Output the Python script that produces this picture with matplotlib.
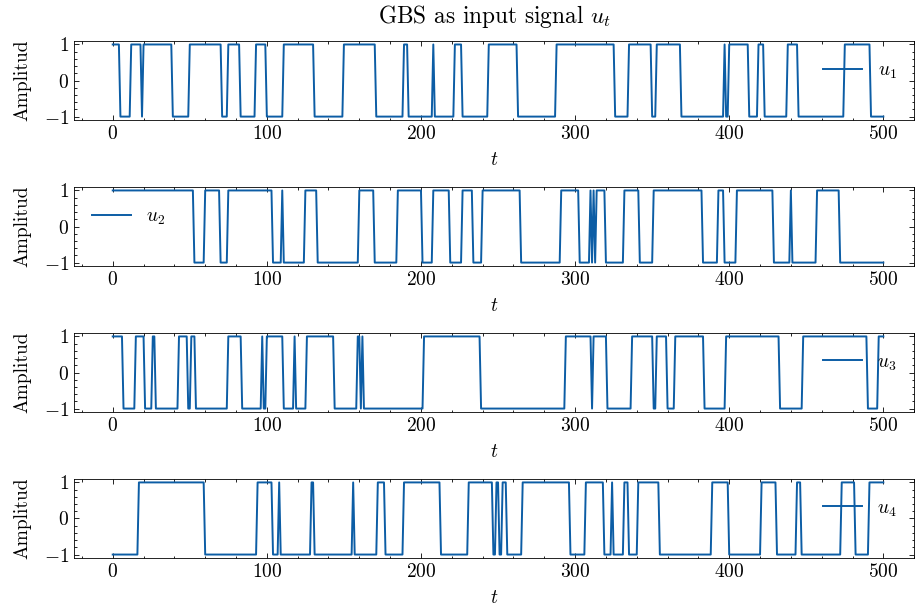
import numpy as np
import matplotlib
matplotlib.use("Agg")
import matplotlib.pyplot as plt
from matplotlib.ticker import MultipleLocator

###################################################################################################
###################################################################################################

n_samples = 501
t = np.arange(n_samples)

# Each GBS input starts at a level and flips sign at the listed sample indices
u1_start = 1
u1_flips = [5, 12, 19, 20, 39, 50, 71, 75, 83, 93, 100, 111, 131, 150, 171, 189, 192, 208, 209,
            222, 227, 244, 263, 288, 326, 335, 350, 353, 369, 397, 398, 400, 413, 419, 423, 438,
            445, 475, 492]

u2_start = 1
u2_flips = [53, 60, 70, 75, 104, 110, 111, 125, 133, 160, 170, 185, 201, 208, 219, 227, 234, 240,
            265, 291, 303, 310, 311, 312, 313, 314, 320, 332, 342, 351, 383, 393, 397, 405, 429,
            440, 441, 457, 472]

u3_start = 1
u3_flips = [7, 15, 21, 26, 28, 43, 49, 51, 54, 75, 84, 97, 98, 100, 111, 118, 119, 126, 144, 159,
            161, 162, 163, 202, 239, 294, 311, 312, 321, 337, 351, 353, 360, 365, 384, 398, 433,
            448, 490, 497]

u4_start = -1
u4_flips = [17, 60, 94, 104, 108, 109, 129, 131, 156, 157, 172, 177, 189, 213, 231, 247, 249, 251,
            253, 256, 266, 297, 307, 319, 324, 325, 332, 335, 341, 355, 389, 400, 421, 431, 444,
            447, 473, 482, 491]

labels = ['$u_1$', '$u_2$', '$u_3$', '$u_4$']
legend_locs = ['center right', 'center left', 'center right', 'center right']


def gbs_from_flips(start, flips, n):
    """Build a binary +-1 sequence from its starting level and flip indices."""

    u = np.full(n, float(start))
    for k in flips:
        u[k:] *= -1
    return u


plt.rcParams.update({
    'font.family': 'serif',
    'font.serif': ['cmr10'],
    'mathtext.fontset': 'cm',
    'axes.formatter.use_mathtext': True,
    'font.size': 14,
    'axes.linewidth': 0.6,
    'xtick.direction': 'in',
    'ytick.direction': 'in',
    'xtick.top': True,
    'ytick.right': True,
    'xtick.minor.visible': True,
    'ytick.minor.visible': True,
    'xtick.major.size': 3.5,
    'ytick.major.size': 3.5,
    'xtick.minor.size': 1.8,
    'ytick.minor.size': 1.8,
    'xtick.major.width': 0.6,
    'ytick.major.width': 0.6,
    'xtick.minor.width': 0.6,
    'ytick.minor.width': 0.6,
    'legend.frameon': False,
})

signals = [gbs_from_flips(u1_start, u1_flips, n_samples),
           gbs_from_flips(u2_start, u2_flips, n_samples),
           gbs_from_flips(u3_start, u3_flips, n_samples),
           gbs_from_flips(u4_start, u4_flips, n_samples)]

fig, axes = plt.subplots(4, 1, figsize=(9.16, 6.10), dpi=100)
fig.subplots_adjust(left=0.081, right=0.998, top=0.933, bottom=0.085, hspace=0.84)

for ax, u, label, loc in zip(axes, signals, labels, legend_locs):
    ax.plot(t, u, color='#0C5DA5', lw=1.4, label=label)
    ax.set_xlim(-25, 520)
    ax.set_ylim(-1.1, 1.1)
    ax.set_yticks([-1, 0, 1])
    ax.xaxis.set_major_locator(MultipleLocator(100))
    ax.xaxis.set_minor_locator(MultipleLocator(20))
    ax.set_xlabel('$t$', labelpad=6)
    ax.set_ylabel('Amplitud', labelpad=9)
    # legend sits a little above the vertical centre
    anchor_x = 1.0 if loc == 'center right' else 0.0
    ax.legend(loc=loc, bbox_to_anchor=(anchor_x, 0.62))

axes[0].set_title('GBS as input signal $u_t$', pad=13)

plt.savefig('out.png', dpi=100)
